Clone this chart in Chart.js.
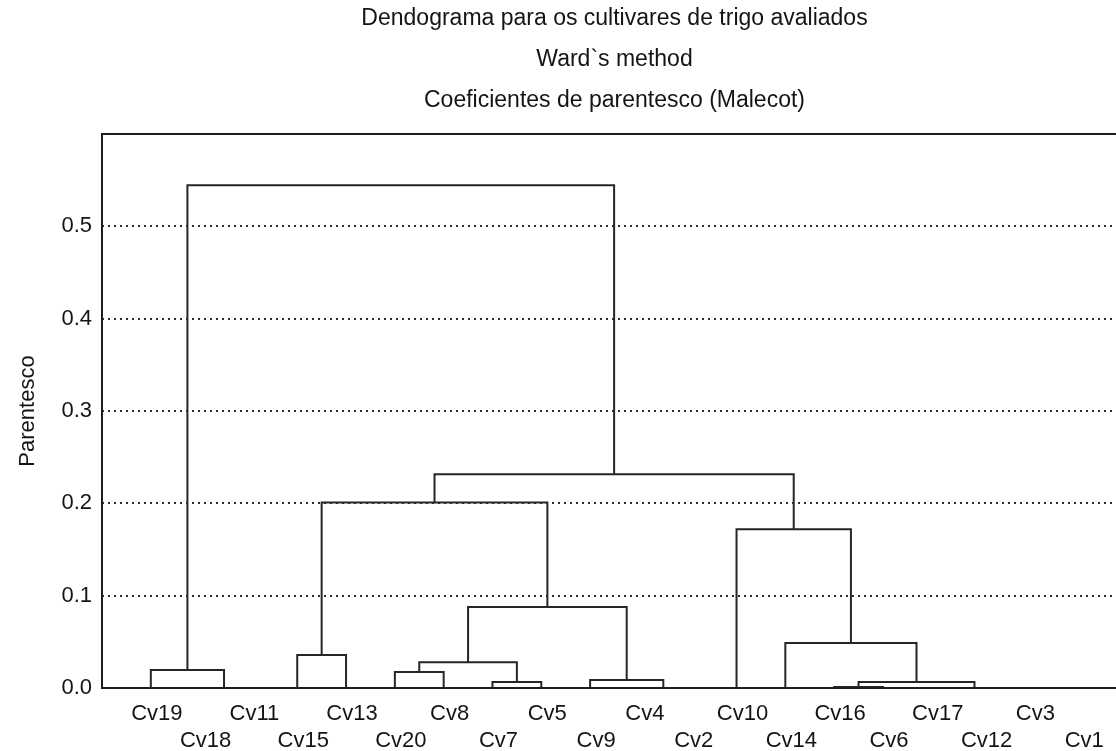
<!DOCTYPE html>
<html>
<head>
<meta charset="utf-8">
<title>Dendograma para os cultivares de trigo avaliados</title>
<script src="https://cdn.jsdelivr.net/npm/chart.js@4.4.1/dist/chart.umd.min.js"></script>
<style>
  html, body { margin: 0; padding: 0; background: #fff; overflow: hidden; }
  #wrap { width: 1116px; height: 751px; overflow: hidden; }
  canvas { display: block; }
</style>
</head>
<body>
<div id="wrap"><canvas id="chart" width="1127" height="751"></canvas></div>
<script>
// leaf order along the x axis
const leafLabels = ['Cv19', 'Cv18', 'Cv11', 'Cv15', 'Cv13', 'Cv20', 'Cv8', 'Cv7', 'Cv5', 'Cv9',
                    'Cv4', 'Cv2', 'Cv10', 'Cv14', 'Cv16', 'Cv6', 'Cv17', 'Cv12', 'Cv3', 'Cv1'];

// linkage (Ward): ids < 20 are leaves, id 20 + k is the cluster built by merge k
const mergeLeft   = [1, 10, 18, 17, 16, 14, 25, 7, 9, 5, 0, 29, 3, 13, 31, 12, 32, 36, 30];
const mergeRight  = [2, 11, 19, 22, 23, 15, 24, 8, 21, 6, 20, 27, 4, 26, 28, 33, 34, 35, 37];
const mergeHeight = [0, 0, 0, 0, 0, 0.001, 0.0065, 0.0065, 0.0087, 0.0173, 0.0195, 0.028,
                     0.0357, 0.0487, 0.0877, 0.172, 0.201, 0.2316, 0.5444];

const yTickValues = [0, 0.1, 0.2, 0.3, 0.4, 0.5];
const yMax = 0.6;

const titleLines = ['Dendograma para os cultivares de trigo avaliados',
                    'Ward`s method',
                    'Coeficientes de parentesco (Malecot)'];
const yTitle = 'Parentesco';

const INK = '#141414';
Chart.defaults.font.family = '"Liberation Sans", Arial, Helvetica, sans-serif';
Chart.defaults.color = INK;

// one U-shaped link per merge, in data units
const nodeX = leafLabels.map((_, i) => i);
const nodeH = leafLabels.map(() => 0);
const datasets = mergeHeight.map((h, k) => {
  const a = mergeLeft[k];
  const b = mergeRight[k];
  const data = [
    { x: nodeX[a], y: nodeH[a] },
    { x: nodeX[a], y: h },
    { x: nodeX[b], y: h },
    { x: nodeX[b], y: nodeH[b] }
  ];
  nodeX.push((nodeX[a] + nodeX[b]) / 2);
  nodeH.push(h);
  return {
    data,
    showLine: true,
    borderColor: '#262626',
    borderWidth: 2,
    pointRadius: 0,
    tension: 0,
    fill: false
  };
});

// box around the plot area
const plotFrame = {
  id: 'plotFrame',
  afterDatasetsDraw(chart) {
    const { ctx, chartArea: a } = chart;
    ctx.save();
    ctx.strokeStyle = '#1e1e1e';
    ctx.lineWidth = 2;
    ctx.strokeRect(a.left, a.top, a.right - a.left, a.bottom - a.top);
    ctx.restore();
  }
};

new Chart(document.getElementById('chart'), {
  type: 'scatter',
  data: { datasets },
  plugins: [plotFrame],
  options: {
    responsive: false,
    animation: false,
    layout: { padding: 0 },
    plugins: {
      legend: { display: false },
      tooltip: { enabled: false },
      title: {
        display: true,
        fullSize: false,
        text: titleLines,
        color: INK,
        font: { size: 23, weight: 'normal', lineHeight: 41 / 23 },
        padding: { top: -2, bottom: 13 }
      }
    },
    scales: {
      x: {
        type: 'linear',
        min: -1,
        max: 20,
        afterBuildTicks: s => { s.ticks = leafLabels.map((_, i) => ({ value: i })); },
        afterFit: s => { s.height = 63; },
        grid: { display: false, drawTicks: false },
        border: { display: false },
        ticks: {
          autoSkip: false,
          maxRotation: 0,
          minRotation: 0,
          padding: 12,
          labelOffset: 6,
          color: INK,
          font: { size: 22, lineHeight: 1.23 },
          callback: v => (v % 2 === 0 ? [leafLabels[v], ''] : ['', leafLabels[v]])
        }
      },
      y: {
        min: 0,
        max: yMax,
        afterBuildTicks: s => { s.ticks = yTickValues.map(v => ({ value: v })); },
        afterFit: s => { s.width = 102; },
        grid: {
          color: '#2e2e2e',
          lineWidth: 2,
          borderDash: [2, 4],
          drawTicks: false
        },
        border: { display: false, dash: [2, 4] },
        ticks: {
          padding: 10,
          color: INK,
          font: { size: 22 },
          callback: v => v.toFixed(1)
        },
        title: {
          display: true,
          text: yTitle,
          color: INK,
          font: { size: 22 },
          padding: { top: 15 }
        }
      }
    }
  }
});
</script>
</body>
</html>
